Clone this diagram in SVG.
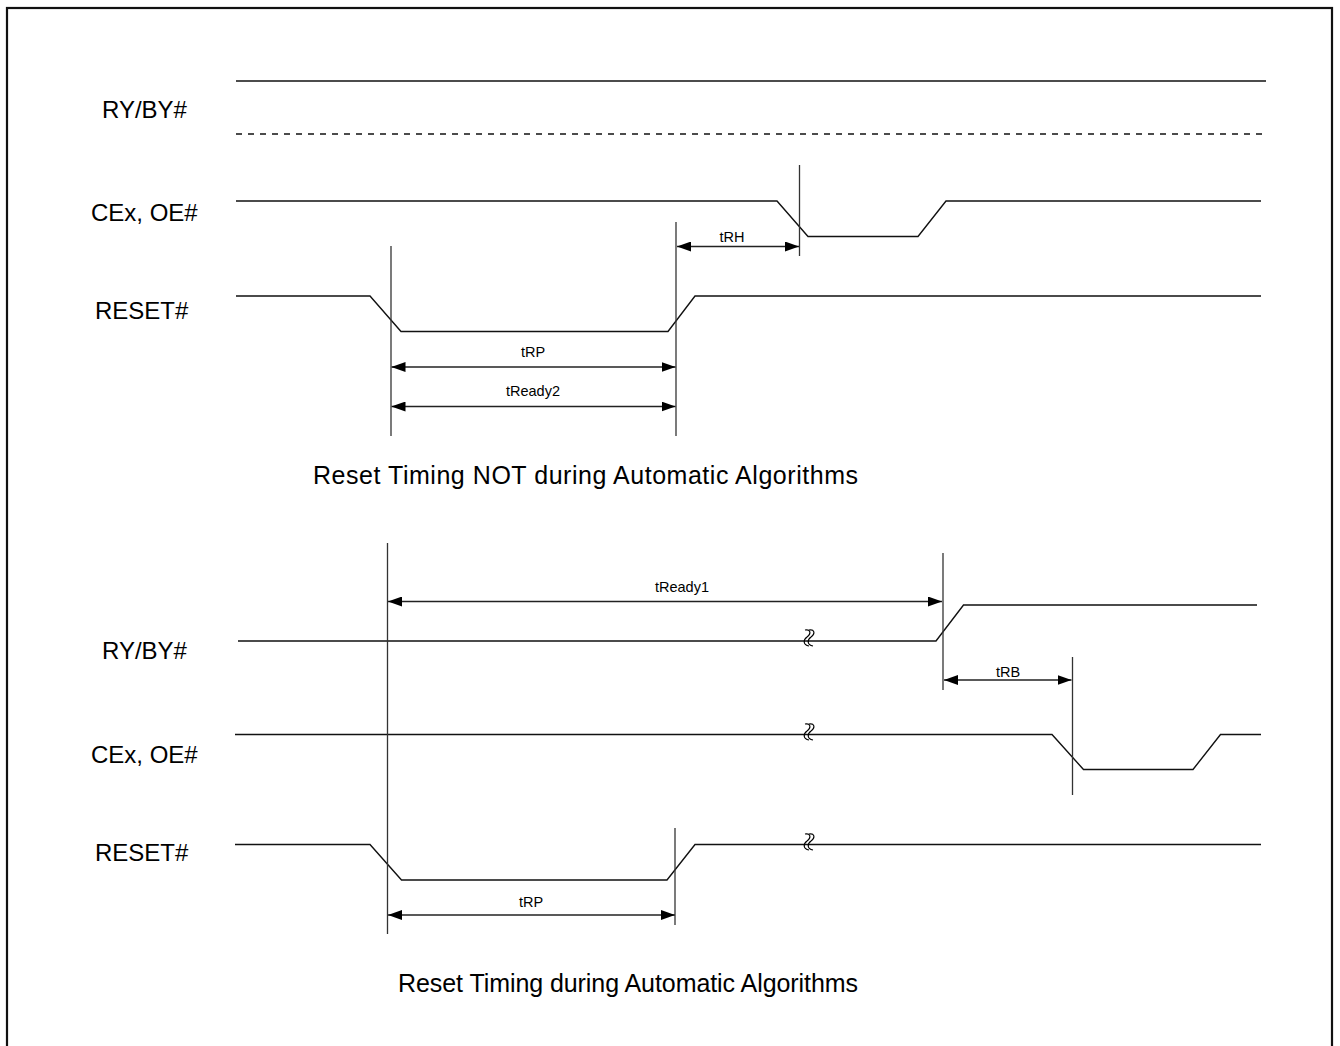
<svg xmlns="http://www.w3.org/2000/svg" width="1340" height="1046" viewBox="0 0 1340 1046">
<defs>
<marker id="ah" viewBox="0 0 14 10" refX="14" refY="5" markerWidth="14" markerHeight="10" markerUnits="userSpaceOnUse" orient="auto-start-reverse">
<path d="M0,0 L14,5 L0,10 Z" fill="#000"/>
</marker>
<g id="brk">
<path d="M-2,-8 c5,-1 7,3 2,7 c-4,3 -4,8 2,9" fill="none" stroke="#000" stroke-width="1.2"/>
<path d="M2,-8 c5,-1 7,3 2,7 c-4,3 -4,8 2,9" fill="none" stroke="#000" stroke-width="1.2"/>
</g>
</defs>
<style>
.sig{fill:none;stroke:#111;stroke-width:1.4}
.ref{fill:none;stroke:#333;stroke-width:1.3}
.dim{fill:none;stroke:#222;stroke-width:1.3;marker-start:url(#ah);marker-end:url(#ah)}
.lbl{font-family:"Liberation Sans",Arial,sans-serif;font-size:24px;fill:#000}
.cap{font-family:"Liberation Sans",Arial,sans-serif;font-size:25px;fill:#000}
.tm{font-family:"Liberation Sans",Arial,sans-serif;font-size:14.5px;fill:#000;text-anchor:middle}
</style>
<rect x="7" y="8" width="1325" height="1050" fill="#fff" stroke="#111" stroke-width="2.2"/>

<g id="top-labels">
<text class="lbl" x="102" y="118">RY/BY#</text>
<text class="lbl" x="91" y="221">CEx, OE#</text>
<text class="lbl" x="95" y="319">RESET#</text>
</g>

<g id="top-signals">
<g id="top-rdy"><line class="sig" x1="236" y1="81" x2="1266" y2="81"/>
<line class="sig" x1="236" y1="134" x2="1266" y2="134" stroke-dasharray="6,6"/></g>
<polyline id="top-ce" class="sig" points="236,201 777,201 808,236.5 918,236.5 946,201 1261,201"/>
<polyline id="top-reset" class="sig" points="236,296 370,296 401,331.5 668,331.5 695,296 1261,296"/>
</g>

<g id="top-refs">
<line class="ref" x1="799.5" y1="165" x2="799.5" y2="256"/>
<line class="ref" x1="391" y1="246" x2="391" y2="436"/>
<line class="ref" x1="676" y1="222" x2="676" y2="436"/>
</g>

<g id="connectors">
<line class="dim" x1="677" y1="246.5" x2="799" y2="246.5"/>
<line class="dim" x1="391.5" y1="367" x2="675.5" y2="367"/>
<line class="dim" x1="391.5" y1="406.5" x2="675.5" y2="406.5"/>
<line class="dim" x1="388" y1="601.5" x2="942" y2="601.5"/>
<line class="dim" x1="944" y1="680" x2="1071.5" y2="680"/>
<line class="dim" x1="388" y1="915" x2="675" y2="915"/>
</g>

<g id="top-dims">
<text class="tm" x="732" y="242">tRH</text>
<text class="tm" x="533" y="357">tRP</text>
<text class="tm" x="533" y="396">tReady2</text>
</g>

<text id="cap1" class="cap" x="313" y="484" textLength="545" lengthAdjust="spacing">Reset Timing NOT during Automatic Algorithms</text>

<g id="bot-labels">
<text class="lbl" x="102" y="659">RY/BY#</text>
<text class="lbl" x="91" y="763">CEx, OE#</text>
<text class="lbl" x="95" y="861">RESET#</text>
</g>

<g id="bot-signals">
<polyline id="bot-rdy" class="sig" points="238,641 936,641 963.5,605 1257,605"/>
<polyline id="bot-ce" class="sig" points="235,734.5 1052,734.5 1083.5,769.5 1193,769.5 1220.5,734.5 1261,734.5"/>
<polyline id="bot-reset" class="sig" points="235,844.5 370,844.5 401.5,880 667,880 695,844.5 1261,844.5"/>
</g>

<g id="breaks">
<use href="#brk" x="807" y="638"/>
<use href="#brk" x="807" y="732"/>
<use href="#brk" x="807" y="842"/>
</g>

<g id="bot-refs">
<line class="ref" x1="387.5" y1="543" x2="387.5" y2="934"/>
<line class="ref" x1="943" y1="553" x2="943" y2="690"/>
<line class="ref" x1="1072.5" y1="657" x2="1072.5" y2="795"/>
<line class="ref" x1="675" y1="828" x2="675" y2="925"/>
</g>

<g id="bot-dims">
<text class="tm" x="682" y="592">tReady1</text>
<text class="tm" x="1008" y="677">tRB</text>
<text class="tm" x="531" y="907">tRP</text>
</g>

<text id="cap2" class="cap" x="398" y="992" textLength="460" lengthAdjust="spacing">Reset Timing during Automatic Algorithms</text>
</svg>
